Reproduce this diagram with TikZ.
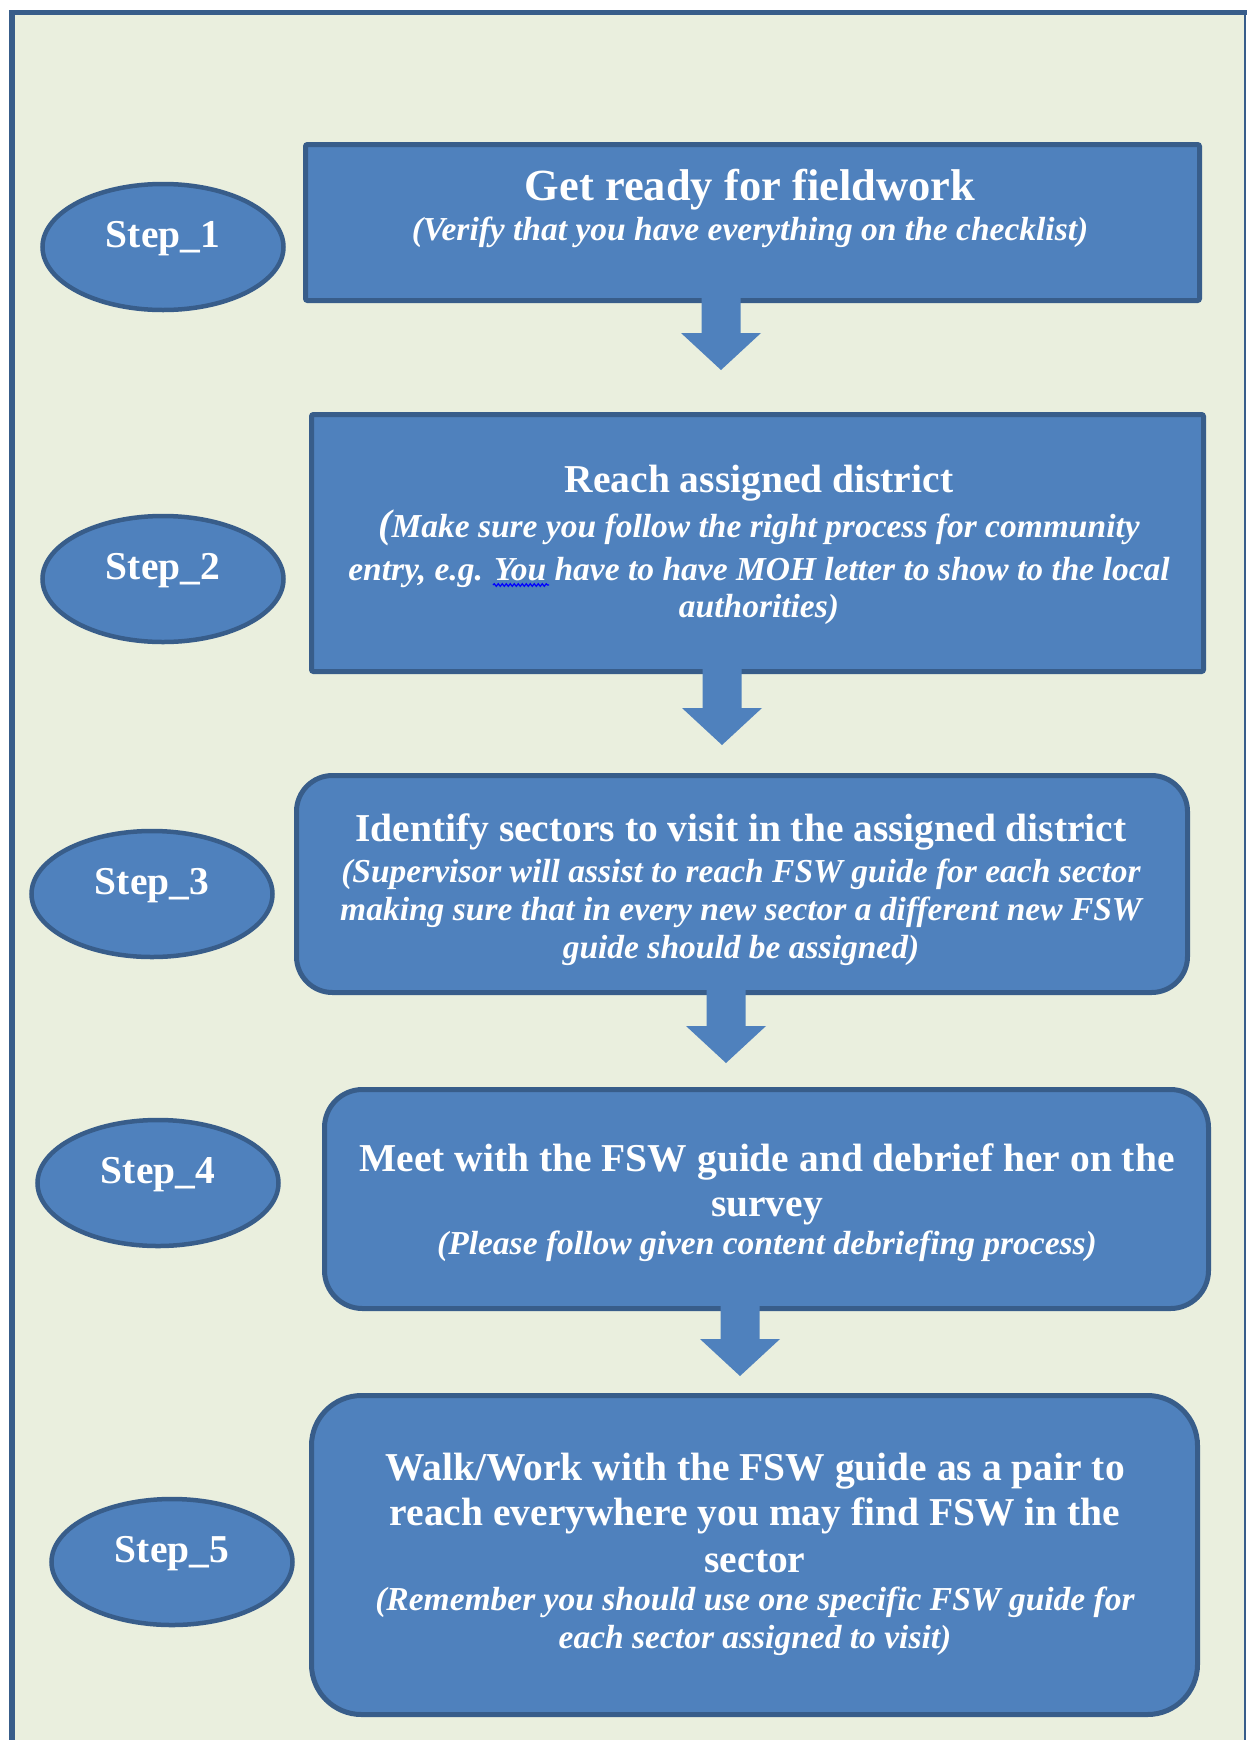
\documentclass[tikz,border=0pt]{standalone}
\usepackage{fontspec}
\setmainfont{Liberation Serif}
\usetikzlibrary{shapes.geometric,calc,decorations.pathmorphing}
\definecolor{bgc}{RGB}{234,239,222}
\definecolor{framec}{RGB}{56,93,138}
\definecolor{boxc}{RGB}{79,129,189}
\newcommand\myttlA{\fontsize{44.5}{50}\selectfont\bfseries}
\newcommand\myttl{\fontsize{39.5}{44}\selectfont\bfseries}
\newcommand\myit{\fontsize{33.5}{38}\selectfont\bfseries\itshape}
\tikzset{
  stepbox/.style={draw=framec, fill=boxc, line width=5pt, inner sep=0pt, rectangle},
  stepoval/.style={draw=framec, fill=boxc, line width=4.5pt, inner sep=0pt, ellipse,
    minimum width=241pt, minimum height=126pt},
  txt/.style={text=white, inner sep=0pt, anchor=base},
  steplabel/.style={txt, font=\myttl},
  blockarrow/.style={fill=boxc, draw=none}
}
\newcommand\downblock[2]{% #1 start (on box bottom), #2 tip
  \fill[blockarrow] ($(#1)+(-19.5,-5)$) -- ($(#1)+(19.5,-5)$) -- ($(#2)+(19.5,-37)$)
    -- ($(#2)+(40,-37)$) -- (#2) -- ($(#2)+(-40,-37)$) -- ($(#2)+(-19.5,-37)$) -- cycle;}
\begin{document}
\begin{tikzpicture}[x=1pt,y=-1pt]
\useasboundingbox (0,0) rectangle (1247,1740);
\fill[white] (0,0) rectangle (1247,1740);
\fill[bgc] (12,12) rectangle (1245,1740);
\draw[framec, line width=5.5pt] (12,1740) -- (12,12.5) -- (1247,12.5);
\draw[framec, line width=2pt] (1245,12.5) -- (1245,1740);

% boxes
\node[stepbox, rounded corners=2pt, minimum width=894pt, minimum height=156pt] (b1) at (752.5,222.5) {};
\node[stepbox, rounded corners=2pt, minimum width=892pt, minimum height=257pt] (b2) at (757.5,543) {};
\node[stepbox, rounded corners=36pt, minimum width=891pt, minimum height=217pt] (b3) at (742,884) {};
\node[stepbox, rounded corners=38pt, minimum width=884pt, minimum height=219pt] (b4) at (766.5,1199) {};
\node[stepbox, rounded corners=50pt, minimum width=886pt, minimum height=319pt] (b5) at (754.5,1555) {};

% ovals
\node[stepoval] (s1) at (163,247) {};
\node[stepoval] (s2) at (163,579) {};
\node[stepoval] (s3) at (152,894) {};
\node[stepoval] (s4) at (158,1183) {};
\node[stepoval] (s5) at (172,1562) {};
\node[steplabel] (l1) at (s1.center) {Step\_1};
\node[steplabel] (l2) at (s2.center) {Step\_2};
\node[steplabel] (l3) at (s3.center) {Step\_3};
\node[steplabel] (l4) at (s4.center) {Step\_4};
\node[steplabel] (l5) at (s5.center) {Step\_5};

% arrows
\coordinate (tip1) at (721,370);
\coordinate (tip2) at (722,745);
\coordinate (tip3) at (726,1063);
\coordinate (tip4) at (740,1376);
\downblock{tip1 |- b1.south}{tip1}
\downblock{tip2 |- b2.south}{tip2}
\downblock{tip3 |- b3.south}{tip3}
\downblock{tip4 |- b4.south}{tip4}

% texts box 1
\node[txt, font=\myttlA] (t1a) at (750,200) {Get ready for fieldwork};
\node[txt, font=\myit] (t1b) at (750,240) {(Verify that you have everything on the checklist)};
% box 2
\node[txt, font=\myttl] (t2a) at (759,492) {Reach assigned district};
\node[txt, font=\myit] (t2b) at (759,537) {{\fontsize{40}{40}\selectfont(}Make sure you follow the right process for community};
\node[txt, font=\myit] (t2c) at (759,580) {entry, e.g. You have to have MOH letter to show to the local};
\node[txt, font=\myit] (t2d) at (759,617) {authorities)};
\draw[blue, line width=1.2pt, decorate, decoration={snake, segment length=4pt, amplitude=1.3pt}] (493,585) -- (549,585);
% box 3
\node[txt, font=\myttl] (t3a) at (741,841) {Identify sectors to visit in the assigned district};
\node[txt, font=\myit] (t3b) at (741,882) {(Supervisor will assist to reach FSW guide for each sector};
\node[txt, font=\myit] (t3c) at (741,920) {making sure that in every new sector a different new FSW};
\node[txt, font=\myit] (t3d) at (741,958) {guide should be assigned)};
% box 4
\node[txt, font=\myttl] (t4a) at (767,1171) {Meet with the FSW guide and debrief her on the};
\node[txt, font=\myttl] (t4b) at (767,1216) {survey};
\node[txt, font=\myit] (t4c) at (767,1254) {(Please follow given content debriefing process)};
% box 5
\node[txt, font=\myttl] (t5a) at (755,1480) {Walk/Work with the FSW guide as a pair to};
\node[txt, font=\myttl] (t5b) at (755,1525) {reach everywhere you may find FSW in the};
\node[txt, font=\myttl] (t5c) at (755,1572) {sector};
\node[txt, font=\myit] (t5d) at (755,1610) {(Remember you should use one specific FSW guide for};
\node[txt, font=\myit] (t5e) at (755,1648) {each sector assigned to visit)};
\end{tikzpicture}
\end{document}
